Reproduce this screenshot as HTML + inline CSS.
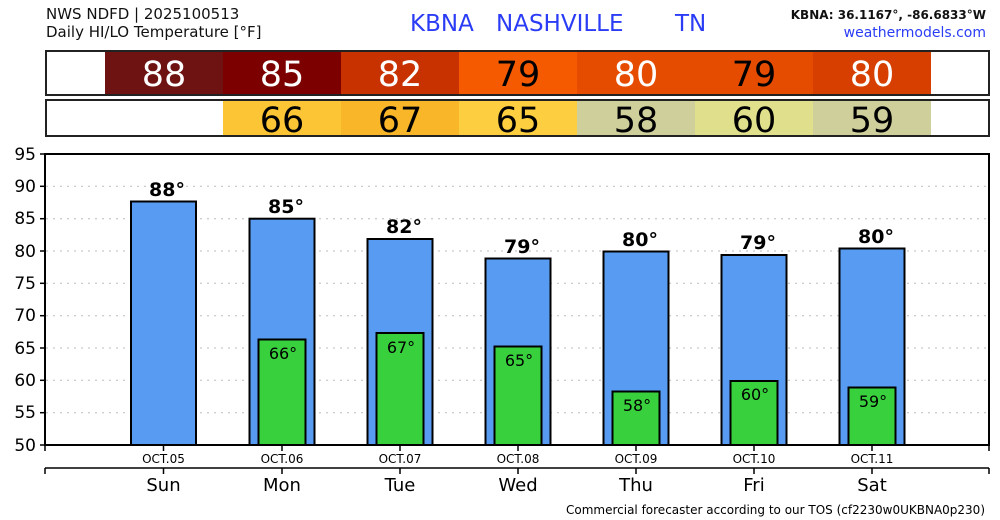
<!DOCTYPE html>
<html><head><meta charset="utf-8"><style>
html,body{margin:0;padding:0;background:#fff;}
svg{display:block;font-family:"DejaVu Sans","Liberation Sans",sans-serif;}
</style></head><body>
<svg width="1000" height="520" viewBox="0 0 1000 520" xmlns="http://www.w3.org/2000/svg">
<text x="46" y="19" font-size="15" fill="#111">NWS NDFD | 2025100513</text>
<text x="46" y="37" font-size="15" fill="#111">Daily HI/LO Temperature [°F]</text>
<text x="410" y="31" font-size="23" fill="#2a3cf5">KBNA</text>
<text x="496" y="31" font-size="23" fill="#2a3cf5">NASHVILLE</text>
<text x="675" y="31" font-size="23" fill="#2a3cf5">TN</text>
<text x="986" y="19" font-size="12" font-weight="bold" fill="#111" text-anchor="end">KBNA: 36.1167°, -86.6833°W</text>
<text x="986" y="37" font-size="14" fill="#2a3cf5" text-anchor="end">weathermodels.com</text>
<!-- row 1 -->
<rect x="46" y="51" width="943" height="44" fill="#fff"/>
<rect x="105" y="51" width="118" height="44" fill="#6e1212"/>
<rect x="223" y="51" width="118" height="44" fill="#7d0000"/>
<rect x="341" y="51" width="118" height="44" fill="#c83200"/>
<rect x="459" y="51" width="118" height="44" fill="#f55a00"/>
<rect x="577" y="51" width="118" height="44" fill="#e64c00"/>
<rect x="695" y="51" width="118" height="44" fill="#e64c00"/>
<rect x="813" y="51" width="118" height="44" fill="#d63f00"/>
<rect x="46" y="51" width="943" height="44" fill="none" stroke="#222" stroke-width="2"/>
<g font-size="35" text-anchor="middle">
<text x="164" y="86" fill="#fff">88</text>
<text x="282" y="86" fill="#fff">85</text>
<text x="400" y="86" fill="#fff">82</text>
<text x="518" y="86" fill="#000">79</text>
<text x="636" y="86" fill="#fff">80</text>
<text x="754" y="86" fill="#000">79</text>
<text x="872" y="86" fill="#fff">80</text>
</g>
<!-- row 2 -->
<rect x="46" y="100" width="943" height="36" fill="#fff"/>
<rect x="223" y="100" width="118" height="36" fill="#fbc535"/>
<rect x="341" y="100" width="118" height="36" fill="#f8b628"/>
<rect x="459" y="100" width="118" height="36" fill="#fdcf40"/>
<rect x="577" y="100" width="118" height="36" fill="#cfcf9c"/>
<rect x="695" y="100" width="118" height="36" fill="#e0e08c"/>
<rect x="813" y="100" width="118" height="36" fill="#cfcf9c"/>
<rect x="46" y="100" width="943" height="36" fill="none" stroke="#222" stroke-width="2"/>
<g font-size="35" text-anchor="middle" fill="#000">
<text x="282" y="132">66</text>
<text x="400" y="132">67</text>
<text x="518" y="132">65</text>
<text x="636" y="132">58</text>
<text x="754" y="132">60</text>
<text x="872" y="132">59</text>
</g>
<!-- grid -->
<g stroke="#bbb" stroke-dasharray="2,5" stroke-width="1">
<line x1="46" x2="988" y1="186.3" y2="186.3"/>
<line x1="46" x2="988" y1="218.7" y2="218.7"/>
<line x1="46" x2="988" y1="251" y2="251"/>
<line x1="46" x2="988" y1="283.3" y2="283.3"/>
<line x1="46" x2="988" y1="315.7" y2="315.7"/>
<line x1="46" x2="988" y1="348" y2="348"/>
<line x1="46" x2="988" y1="380.3" y2="380.3"/>
<line x1="46" x2="988" y1="412.7" y2="412.7"/>
</g>
<!-- hi bars -->
<g fill="#579cf2" stroke="#000" stroke-width="2">
<rect x="131" y="201.5" width="65" height="243.5"/>
<rect x="249.5" y="218.7" width="65" height="226.3"/>
<rect x="367.5" y="239" width="65" height="206"/>
<rect x="485.5" y="258.5" width="65" height="186.5"/>
<rect x="603.5" y="251.5" width="65" height="193.5"/>
<rect x="721.5" y="255" width="65" height="190"/>
<rect x="839.5" y="248.5" width="65" height="196.5"/>
</g>
<g fill="#38d13d" stroke="#000" stroke-width="2">
<rect x="258.5" y="339.5" width="47" height="105.5"/>
<rect x="376.5" y="333" width="47" height="112"/>
<rect x="494.5" y="346.5" width="47" height="98.5"/>
<rect x="612.5" y="391.5" width="47" height="53.5"/>
<rect x="730.5" y="381" width="47" height="64"/>
<rect x="848.5" y="387.5" width="47" height="57.5"/>
</g>
<g font-size="19" font-weight="600" text-anchor="middle" fill="#000">
<text x="167" y="196">88°</text>
<text x="286" y="213">85°</text>
<text x="404" y="233">82°</text>
<text x="522" y="253">79°</text>
<text x="640" y="246">80°</text>
<text x="758" y="249">79°</text>
<text x="876" y="243">80°</text>
</g>
<g font-size="16" text-anchor="middle" fill="#000">
<text x="283" y="359">66°</text>
<text x="401" y="353">67°</text>
<text x="519" y="366">65°</text>
<text x="637" y="411">58°</text>
<text x="755" y="400">60°</text>
<text x="873" y="407">59°</text>
</g>
<!-- frame -->
<rect x="45" y="154" width="944" height="291" fill="none" stroke="#000" stroke-width="2"/>
<g stroke="#000" stroke-width="1.5">
<line x1="40" x2="45" y1="154" y2="154"/><line x1="40" x2="45" y1="186.3" y2="186.3"/>
<line x1="40" x2="45" y1="218.7" y2="218.7"/><line x1="40" x2="45" y1="251" y2="251"/>
<line x1="40" x2="45" y1="283.3" y2="283.3"/><line x1="40" x2="45" y1="315.7" y2="315.7"/>
<line x1="40" x2="45" y1="348" y2="348"/><line x1="40" x2="45" y1="380.3" y2="380.3"/>
<line x1="40" x2="45" y1="412.7" y2="412.7"/><line x1="40" x2="45" y1="445" y2="445"/>
<line x1="45" x2="45" y1="445" y2="451"/>
<line x1="163.5" x2="163.5" y1="445" y2="451"/><line x1="282" x2="282" y1="445" y2="451"/>
<line x1="400" x2="400" y1="445" y2="451"/><line x1="518" x2="518" y1="445" y2="451"/>
<line x1="636" x2="636" y1="445" y2="451"/><line x1="754" x2="754" y1="445" y2="451"/>
<line x1="872" x2="872" y1="445" y2="451"/><line x1="989" x2="989" y1="445" y2="451"/>
<line x1="45" x2="989" y1="468" y2="468"/>
<line x1="45" x2="45" y1="468" y2="474"/>
<line x1="163.5" x2="163.5" y1="468" y2="474"/><line x1="282" x2="282" y1="468" y2="474"/>
<line x1="400" x2="400" y1="468" y2="474"/><line x1="518" x2="518" y1="468" y2="474"/>
<line x1="636" x2="636" y1="468" y2="474"/><line x1="754" x2="754" y1="468" y2="474"/>
<line x1="872" x2="872" y1="468" y2="474"/><line x1="989" x2="989" y1="468" y2="474"/>
</g>
<g font-size="17" text-anchor="end" fill="#000">
<text x="36" y="160">95</text><text x="36" y="192">90</text><text x="36" y="224">85</text>
<text x="36" y="257">80</text><text x="36" y="289">75</text><text x="36" y="321">70</text>
<text x="36" y="354">65</text><text x="36" y="386">60</text><text x="36" y="418">55</text>
<text x="36" y="451">50</text>
</g>
<g font-size="12" text-anchor="middle" fill="#000">
<text x="163.5" y="463">OCT.05</text><text x="282" y="463">OCT.06</text>
<text x="400" y="463">OCT.07</text><text x="518" y="463">OCT.08</text>
<text x="636" y="463">OCT.09</text><text x="754" y="463">OCT.10</text>
<text x="872" y="463">OCT.11</text>
</g>
<g font-size="18" text-anchor="middle" fill="#000">
<text x="163.5" y="491">Sun</text><text x="282" y="491">Mon</text>
<text x="400" y="491">Tue</text><text x="518" y="491">Wed</text>
<text x="636" y="491">Thu</text><text x="754" y="491">Fri</text>
<text x="872" y="491">Sat</text>
</g>
<text x="985" y="514" font-size="12" text-anchor="end" fill="#000">Commercial forecaster according to our TOS (cf2230w0UKBNA0p230)</text>
</svg>
</body></html>
